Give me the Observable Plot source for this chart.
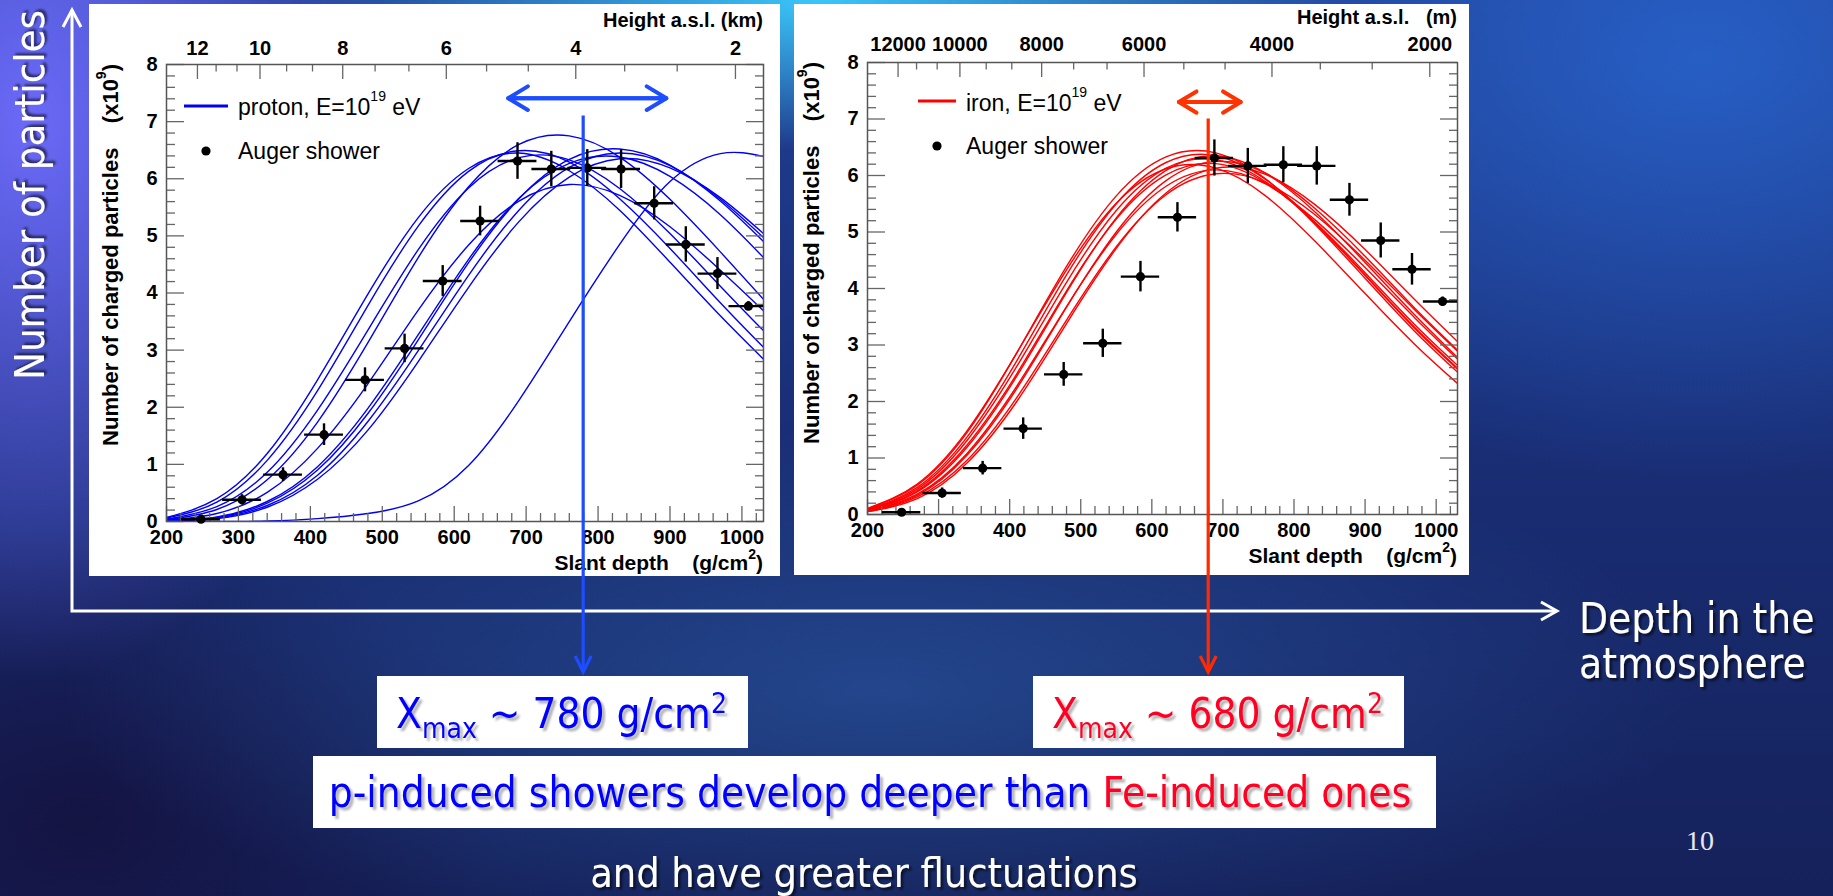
<!DOCTYPE html>
<html>
<head>
<meta charset="utf-8">
<title>Shower longitudinal profiles: proton vs iron</title>
<script src="https://cdn.jsdelivr.net/npm/d3@7"></script>
<script src="https://cdn.jsdelivr.net/npm/@observablehq/plot@0.6"></script>
<style>
  html, body { margin: 0; padding: 0; }
  body {
    width: 1833px; height: 896px; overflow: hidden; position: relative;
    background:
      radial-gradient(ellipse 520px 150px at 820px 0px, rgba(60,205,255,0.95), rgba(60,205,255,0) 100%),
      radial-gradient(ellipse 360px 560px at 30px 120px, rgba(112,108,255,0.95), rgba(112,108,255,0) 100%),
      radial-gradient(ellipse 600px 420px at 1700px 60px, rgba(40,100,205,0.85), rgba(40,100,205,0) 100%),
      radial-gradient(ellipse 820px 260px at 880px 690px, rgba(45,95,170,0.55), rgba(45,95,170,0) 100%),
      radial-gradient(ellipse 420px 300px at 80px 820px, rgba(20,16,60,0.8), rgba(20,16,60,0) 100%),
      linear-gradient(180deg, #213f94 0%, #1a2f78 45%, #15215a 100%);
  }
  .panel { position: absolute; background: #fff; }
  .panel svg { display: block; }
  #overlay { position: absolute; left: 0; top: 0; pointer-events: none; }
</style>
</head>
<body>
<div id="left" class="panel" style="left:89px; top:4px; width:691px; height:572px;"></div>
<div id="right" class="panel" style="left:794px; top:4px; width:675px; height:571px;"></div>
<svg id="overlay" width="1833" height="896"></svg>
<script>
// ---- Data -------------------------------------------------------------

// Slant depth (g/cm²) at which every simulated profile is sampled
const depthGrid = [200, 270, 340, 410, 480, 550, 620, 690, 760, 830, 900, 970, 1030];

// Simulated proton showers, E = 10^19 eV — charged particles (×10^9)
const protonProfiles = [
  [0.07, 0.40, 1.19, 2.48, 3.98, 5.32, 6.18, 6.45, 6.14, 5.45, 4.54, 3.60, 2.84],
  [0.06, 0.34, 1.07, 2.29, 3.78, 5.17, 6.13, 6.49, 6.29, 5.65, 4.78, 3.83, 3.05],
  [0.04, 0.26, 0.86, 1.95, 3.35, 4.76, 5.84, 6.37, 6.33, 5.83, 5.04, 4.12, 3.34],
  [0.03, 0.21, 0.73, 1.74, 3.13, 4.62, 5.86, 6.60, 6.75, 6.38, 5.64, 4.72, 3.89],
  [0.02, 0.14, 0.51, 1.28, 2.41, 3.70, 4.84, 5.61, 5.90, 5.71, 5.16, 4.40, 3.69],
  [0.01, 0.08, 0.35, 0.96, 1.98, 3.27, 4.59, 5.66, 6.27, 6.38, 6.04, 5.37, 4.62],
  [0.01, 0.07, 0.32, 0.90, 1.89, 3.18, 4.53, 5.65, 6.34, 6.52, 6.24, 5.61, 4.90],
  [0.01, 0.06, 0.28, 0.81, 1.75, 2.99, 4.31, 5.45, 6.20, 6.45, 6.23, 5.64, 4.97],
  [0.01, 0.05, 0.25, 0.74, 1.60, 2.80, 4.10, 5.25, 6.03, 6.35, 6.19, 5.67, 5.04],
  [0.00, 0.00, 0.01, 0.05, 0.14, 0.36, 0.98, 2.12, 3.50, 4.85, 5.95, 6.44, 6.39]
];

// Simulated iron showers, E = 10^19 eV — charged particles (×10^9)
const ironProfiles = [
  [0.11, 0.54, 1.48, 2.86, 4.33, 5.51, 6.12, 6.13, 5.64, 4.83, 3.91, 3.01, 2.32],
  [0.10, 0.52, 1.45, 2.86, 4.39, 5.64, 6.33, 6.40, 5.94, 5.13, 4.18, 3.24, 2.52],
  [0.09, 0.48, 1.37, 2.72, 4.24, 5.50, 6.23, 6.35, 5.93, 5.16, 4.23, 3.29, 2.57],
  [0.09, 0.45, 1.31, 2.62, 4.11, 5.38, 6.13, 6.28, 5.89, 5.15, 4.24, 3.31, 2.59],
  [0.08, 0.42, 1.23, 2.49, 3.96, 5.23, 6.01, 6.21, 5.87, 5.17, 4.28, 3.36, 2.64],
  [0.07, 0.40, 1.19, 2.45, 3.93, 5.25, 6.09, 6.35, 6.04, 5.35, 4.46, 3.53, 2.78],
  [0.06, 0.36, 1.08, 2.27, 3.68, 4.96, 5.81, 6.10, 5.85, 5.21, 4.37, 3.48, 2.75],
  [0.06, 0.34, 1.05, 2.23, 3.67, 5.00, 5.91, 6.25, 6.04, 5.41, 4.57, 3.65, 2.91],
  [0.05, 0.31, 0.96, 2.07, 3.44, 4.74, 5.66, 6.03, 5.87, 5.30, 4.50, 3.62, 2.89],
  [0.05, 0.28, 0.91, 2.00, 3.38, 4.71, 5.69, 6.13, 6.02, 5.48, 4.69, 3.80, 3.06]
];

// Measured Auger shower profile
const augerDepth    = [248, 305, 362, 419, 476, 531, 584, 636, 688, 735, 785, 832, 878, 922, 966, 1009];
const augerSize     = [0.04, 0.38, 0.82, 1.52, 2.48, 3.03, 4.21, 5.26, 6.31, 6.17, 6.19, 6.17, 5.57, 4.85, 4.34, 3.77];
const augerSizeErr  = [0.03, 0.09, 0.12, 0.19, 0.21, 0.25, 0.27, 0.26, 0.32, 0.31, 0.32, 0.34, 0.29, 0.31, 0.28, 0.08];
const augerDepthErr = [27, 27, 27, 27, 27, 27, 27, 27, 27, 27, 27, 27, 27, 27, 27, 27];

// Upper axis: height above sea level and the slant depth where it falls
const heightKm         = [12, 10, 8, 6, 4, 2];
const heightM          = [12000, 10000, 8000, 6000, 4000, 2000];
const heightDepth      = [243, 330, 445, 589, 769, 991];
const heightMinorDepth = [269, 298, 367, 403, 490, 537, 645, 703, 837, 910];

// Depth of shower maximum and its spread
const xmaxProton = 780;
const xmaxIron = 680;
const protonSpread = [675, 895];
const ironSpread = [638, 725];

// ---- Panels -----------------------------------------------------------

const FONT = "Liberation Sans, Arial, Helvetica, sans-serif";

function drawPanel(cfg) {
  const {width, height, mt, mr, mb, ml} = cfg;
  const fw = width - ml - mr, fh = height - mt - mb;
  const curves = cfg.profiles.flatMap((vals, k) => vals.map((v, i) => ({k, depth: depthGrid[i], n: v})));
  const auger = augerDepth.map((d, i) => ({depth: d, n: augerSize[i], en: augerSizeErr[i], ed: augerDepthErr[i]}));
  const xMajor = d3.range(200, 1001, 100);
  const xMinor = d3.range(220, 1030, 20).filter(v => v % 100 !== 0);
  const yMajor = d3.range(0, 9);
  const yMinor = d3.range(1, 40).filter(i => i % 5 !== 0).map(i => i / 5);
  const tick = {stroke: "#666", strokeWidth: 1.3};
  const label = {fontSize: 20, fontWeight: "bold", fill: "black", fontFamily: FONT};
  const [a, b] = cfg.spread;

  const chart = Plot.plot({
    width, height,
    marginTop: mt, marginRight: mr, marginBottom: mb, marginLeft: ml,
    x: {domain: [200, 1030], axis: null},
    y: {domain: [0, 8], axis: null},
    style: {background: "white", fontFamily: FONT, overflow: "visible"},
    marks: [
      Plot.line(curves, {x: "depth", y: "n", z: "k", stroke: cfg.color, strokeWidth: 1.4, curve: "natural", clip: true}),
      // inward ticks on all four sides
      Plot.tickX(xMajor, {x: d => d, insetTop: fh - 15, ...tick}),
      Plot.tickX(xMinor, {x: d => d, insetTop: fh - 8, ...tick}),
      Plot.tickX(heightDepth, {x: d => d, insetBottom: fh - 15, ...tick}),
      Plot.tickX(heightMinorDepth, {x: d => d, insetBottom: fh - 7.5, ...tick}),
      Plot.tickY(yMajor, {y: d => d, insetRight: fw - 18, ...tick}),
      Plot.tickY(yMinor, {y: d => d, insetRight: fw - 9, ...tick}),
      Plot.tickY(yMajor, {y: d => d, insetLeft: fw - 17, ...tick}),
      Plot.tickY(yMinor, {y: d => d, insetLeft: fw - 8, ...tick}),
      Plot.frame({stroke: "#555", strokeWidth: 1.5}),
      // tick labels
      Plot.text(xMajor, {x: d => d, text: d => String(d), frameAnchor: "bottom", dy: 22, lineAnchor: "bottom", ...label}),
      Plot.text(yMajor, {y: d => d, text: d => String(d), frameAnchor: "left", dx: -9, textAnchor: "end", lineAnchor: "middle", ...label}),
      Plot.text(cfg.heightLabels, {x: (d, i) => heightDepth[i], text: d => String(d), frameAnchor: "top", dy: cfg.topDy, lineAnchor: "bottom", ...label}),
      // Auger measurement with error bars
      Plot.ruleY(auger, {y: "n", x1: d => d.depth - d.ed, x2: d => d.depth + d.ed, stroke: "black", strokeWidth: 2.4, clip: true}),
      Plot.ruleX(auger, {x: "depth", y1: d => d.n - d.en, y2: d => d.n + d.en, stroke: "black", strokeWidth: 2.4}),
      Plot.dot(auger, {x: "depth", y: "n", r: 4.6, fill: "black"}),
      // spread of the shower maximum (double-headed arrow)
      Plot.arrow([[a, b], [b, a]], {x1: d => d[0], x2: d => d[1], y1: () => cfg.arrowLevel, y2: () => cfg.arrowLevel,
        stroke: cfg.accent, strokeWidth: 4, headLength: cfg.headLength, headAngle: 62})
    ]
  });

  const svg = d3.select(chart);
  const g = svg.append("g").attr("font-family", FONT).attr("fill", "black").attr("text-anchor", "start");

  // axis titles
  const yt = g.append("text")
    .attr("transform", `translate(${cfg.yTitleX},${mt}) rotate(-90)`)
    .attr("text-anchor", "end").attr("font-size", 22).attr("font-weight", "bold")
    .style("white-space", "pre");
  yt.append("tspan").text("Number of charged particles    (x10");
  yt.append("tspan").attr("font-size", 14).attr("dy", -12).text("9");
  yt.append("tspan").attr("dy", 12).text(")");

  const xt = g.append("text")
    .attr("x", ml + fw).attr("y", cfg.xTitleY)
    .attr("text-anchor", "end").attr("font-size", 21).attr("font-weight", "bold")
    .style("white-space", "pre");
  xt.append("tspan").text("Slant depth    (g/cm");
  xt.append("tspan").attr("font-size", 14).attr("dy", -11).text("2");
  xt.append("tspan").attr("dy", 11).text(")");

  g.append("text")
    .attr("x", ml + fw).attr("y", cfg.hTitleY)
    .attr("text-anchor", "end").attr("font-size", 20).attr("font-weight", "bold")
    .style("white-space", "pre")
    .text(cfg.heightTitle);

  // legend
  const L = cfg.legend;
  g.append("line").attr("x1", L.lineX[0]).attr("x2", L.lineX[1]).attr("y1", L.lineY).attr("y2", L.lineY)
    .attr("stroke", cfg.color).attr("stroke-width", 3);
  const lt = g.append("text").attr("x", L.textX).attr("y", L.row1).attr("font-size", 23)
    .attr("text-anchor", "start").style("white-space", "pre");
  lt.append("tspan").text(cfg.legendLabel + ", E=10");
  lt.append("tspan").attr("font-size", 14).attr("dy", -14).text("19");
  lt.append("tspan").attr("dy", 14).text(" eV");
  g.append("circle").attr("cx", L.dotX).attr("cy", L.dotY).attr("r", 4.6);
  g.append("text").attr("x", L.textX).attr("y", L.row2).attr("font-size", 23)
    .attr("text-anchor", "start").text("Auger shower");

  document.getElementById(cfg.id).appendChild(chart);
  return chart;
}

const leftCfg = {
  id: "left", left: 89, top: 4,
  width: 691, height: 572, mt: 60, mr: 17, mb: 55, ml: 77,
  profiles: protonProfiles, color: "#0000f2", accent: "#1d4dff",
  spread: protonSpread, arrowLevel: 7.41, headLength: 8.6,
  heightLabels: heightKm, topDy: -10, heightTitle: "Height a.s.l. (km)",
  yTitleX: 29, xTitleY: 566, hTitleY: 23,
  legendLabel: "proton",
  legend: {lineX: [95, 139], lineY: 102, textX: 149, row1: 111, dotX: 117, dotY: 147, row2: 155}
};
const rightCfg = {
  id: "right", left: 794, top: 4,
  width: 675, height: 571, mt: 58, mr: 12, mb: 61, ml: 73,
  profiles: ironProfiles, color: "#ff0000", accent: "#ff3300",
  spread: ironSpread, arrowLevel: 7.30, headLength: 8,
  heightLabels: heightM, topDy: -12, heightTitle: "Height a.s.l.   (m)",
  yTitleX: 25, xTitleY: 559, hTitleY: 20,
  legendLabel: "iron",
  legend: {lineX: [124, 162], lineY: 97, textX: 172, row1: 107, dotX: 143, dotY: 142, row2: 150}
};

const leftChart = drawPanel(leftCfg);
const rightChart = drawPanel(rightCfg);

// ---- Slide annotations ------------------------------------------------

const SLIDE_FONT = "'DejaVu Sans Condensed', 'DejaVu Sans', sans-serif";
const ov = d3.select("#overlay");
const defs = ov.append("defs");
defs.append("filter").attr("id", "shadowDark").attr("x", "-10%").attr("y", "-30%").attr("width", "125%").attr("height", "170%")
  .append("feDropShadow").attr("dx", 2.5).attr("dy", 2.5).attr("stdDeviation", 1.3)
  .attr("flood-color", "#000").attr("flood-opacity", 0.6);
defs.append("filter").attr("id", "shadowGray").attr("x", "-10%").attr("y", "-30%").attr("width", "125%").attr("height", "170%")
  .append("feDropShadow").attr("dx", 3).attr("dy", 3).attr("stdDeviation", 1.2)
  .attr("flood-color", "#000").attr("flood-opacity", 0.3);

// coordinate axes of the sketch
ov.append("path").attr("d", "M72,10 L72,611 L1557,611")
  .attr("fill", "none").attr("stroke", "white").attr("stroke-width", 3);
ov.append("path").attr("d", "M63,27 L72,10 L81,27").attr("fill", "none").attr("stroke", "white").attr("stroke-width", 3);
ov.append("path").attr("d", "M1541,602 L1557,611 L1541,620").attr("fill", "none").attr("stroke", "white").attr("stroke-width", 3);

ov.append("text")
  .attr("transform", "translate(44,195) rotate(-90)")
  .attr("text-anchor", "middle").attr("font-family", SLIDE_FONT).attr("font-size", 41.5)
  .attr("fill", "white").attr("filter", "url(#shadowDark)")
  .text("Number of particles");

const depthLabel = ov.append("text").attr("font-family", SLIDE_FONT).attr("font-size", 42)
  .attr("fill", "white").attr("filter", "url(#shadowDark)");
depthLabel.append("tspan").attr("x", 1579).attr("y", 633).text("Depth in the");
depthLabel.append("tspan").attr("x", 1579).attr("y", 678).text("atmosphere");

// vertical markers at the depth of maximum, drawn through each panel's scales
function xmaxMarker(chart, cfg, value, level, color) {
  const x = cfg.left + chart.scale("x").apply(value);
  const y0 = cfg.top + chart.scale("y").apply(level);
  ov.append("line").attr("x1", x).attr("x2", x).attr("y1", y0).attr("y2", 672)
    .attr("stroke", color).attr("stroke-width", 3.2);
  ov.append("path").attr("d", `M${x - 8},${656} L${x},${672} L${x + 8},${656}`)
    .attr("fill", "none").attr("stroke", color).attr("stroke-width", 3.2);
  return x;
}
xmaxMarker(leftChart, leftCfg, xmaxProton, 7.1, "#1d4dff");
xmaxMarker(rightChart, rightCfg, xmaxIron, 7.0, "#ff2a00");

function xmaxBox(x, w, value, color) {
  ov.append("rect").attr("x", x).attr("y", 676).attr("width", w).attr("height", 72).attr("fill", "white");
  const t = ov.append("text").attr("x", x + w / 2 - 1).attr("y", 728)
    .attr("text-anchor", "middle").attr("font-family", SLIDE_FONT).attr("font-size", 42)
    .attr("fill", color).attr("filter", "url(#shadowGray)").style("white-space", "pre");
  t.append("tspan").text("X");
  t.append("tspan").attr("font-size", 28).attr("dy", 10).text("max");
  t.append("tspan").attr("dy", -10).text(` ~ ${value} g/cm`);
  t.append("tspan").attr("font-size", 28).attr("dy", -15).text("2");
}
xmaxBox(377, 371, xmaxProton, "#0000ff");
xmaxBox(1033, 371, xmaxIron, "#ff0022");

ov.append("rect").attr("x", 313).attr("y", 756).attr("width", 1123).attr("height", 72).attr("fill", "white");
const concl = ov.append("text").attr("x", 870).attr("y", 807).attr("text-anchor", "middle")
  .attr("font-family", SLIDE_FONT).attr("font-size", 42).attr("filter", "url(#shadowGray)")
  .style("white-space", "pre");
concl.append("tspan").attr("fill", "#0000ff").text("p-induced showers develop deeper than ");
concl.append("tspan").attr("fill", "#ff0022").text("Fe-induced ones");

ov.append("text").attr("x", 864).attr("y", 887).attr("text-anchor", "middle")
  .attr("font-family", SLIDE_FONT).attr("font-size", 41).attr("fill", "white")
  .attr("filter", "url(#shadowDark)")
  .text("and have greater fluctuations");

ov.append("text").attr("x", 1686).attr("y", 850)
  .attr("font-family", "'Liberation Serif', 'Times New Roman', serif").attr("font-size", 28)
  .attr("fill", "#e6e8f2").text("10");
</script>
</body>
</html>
